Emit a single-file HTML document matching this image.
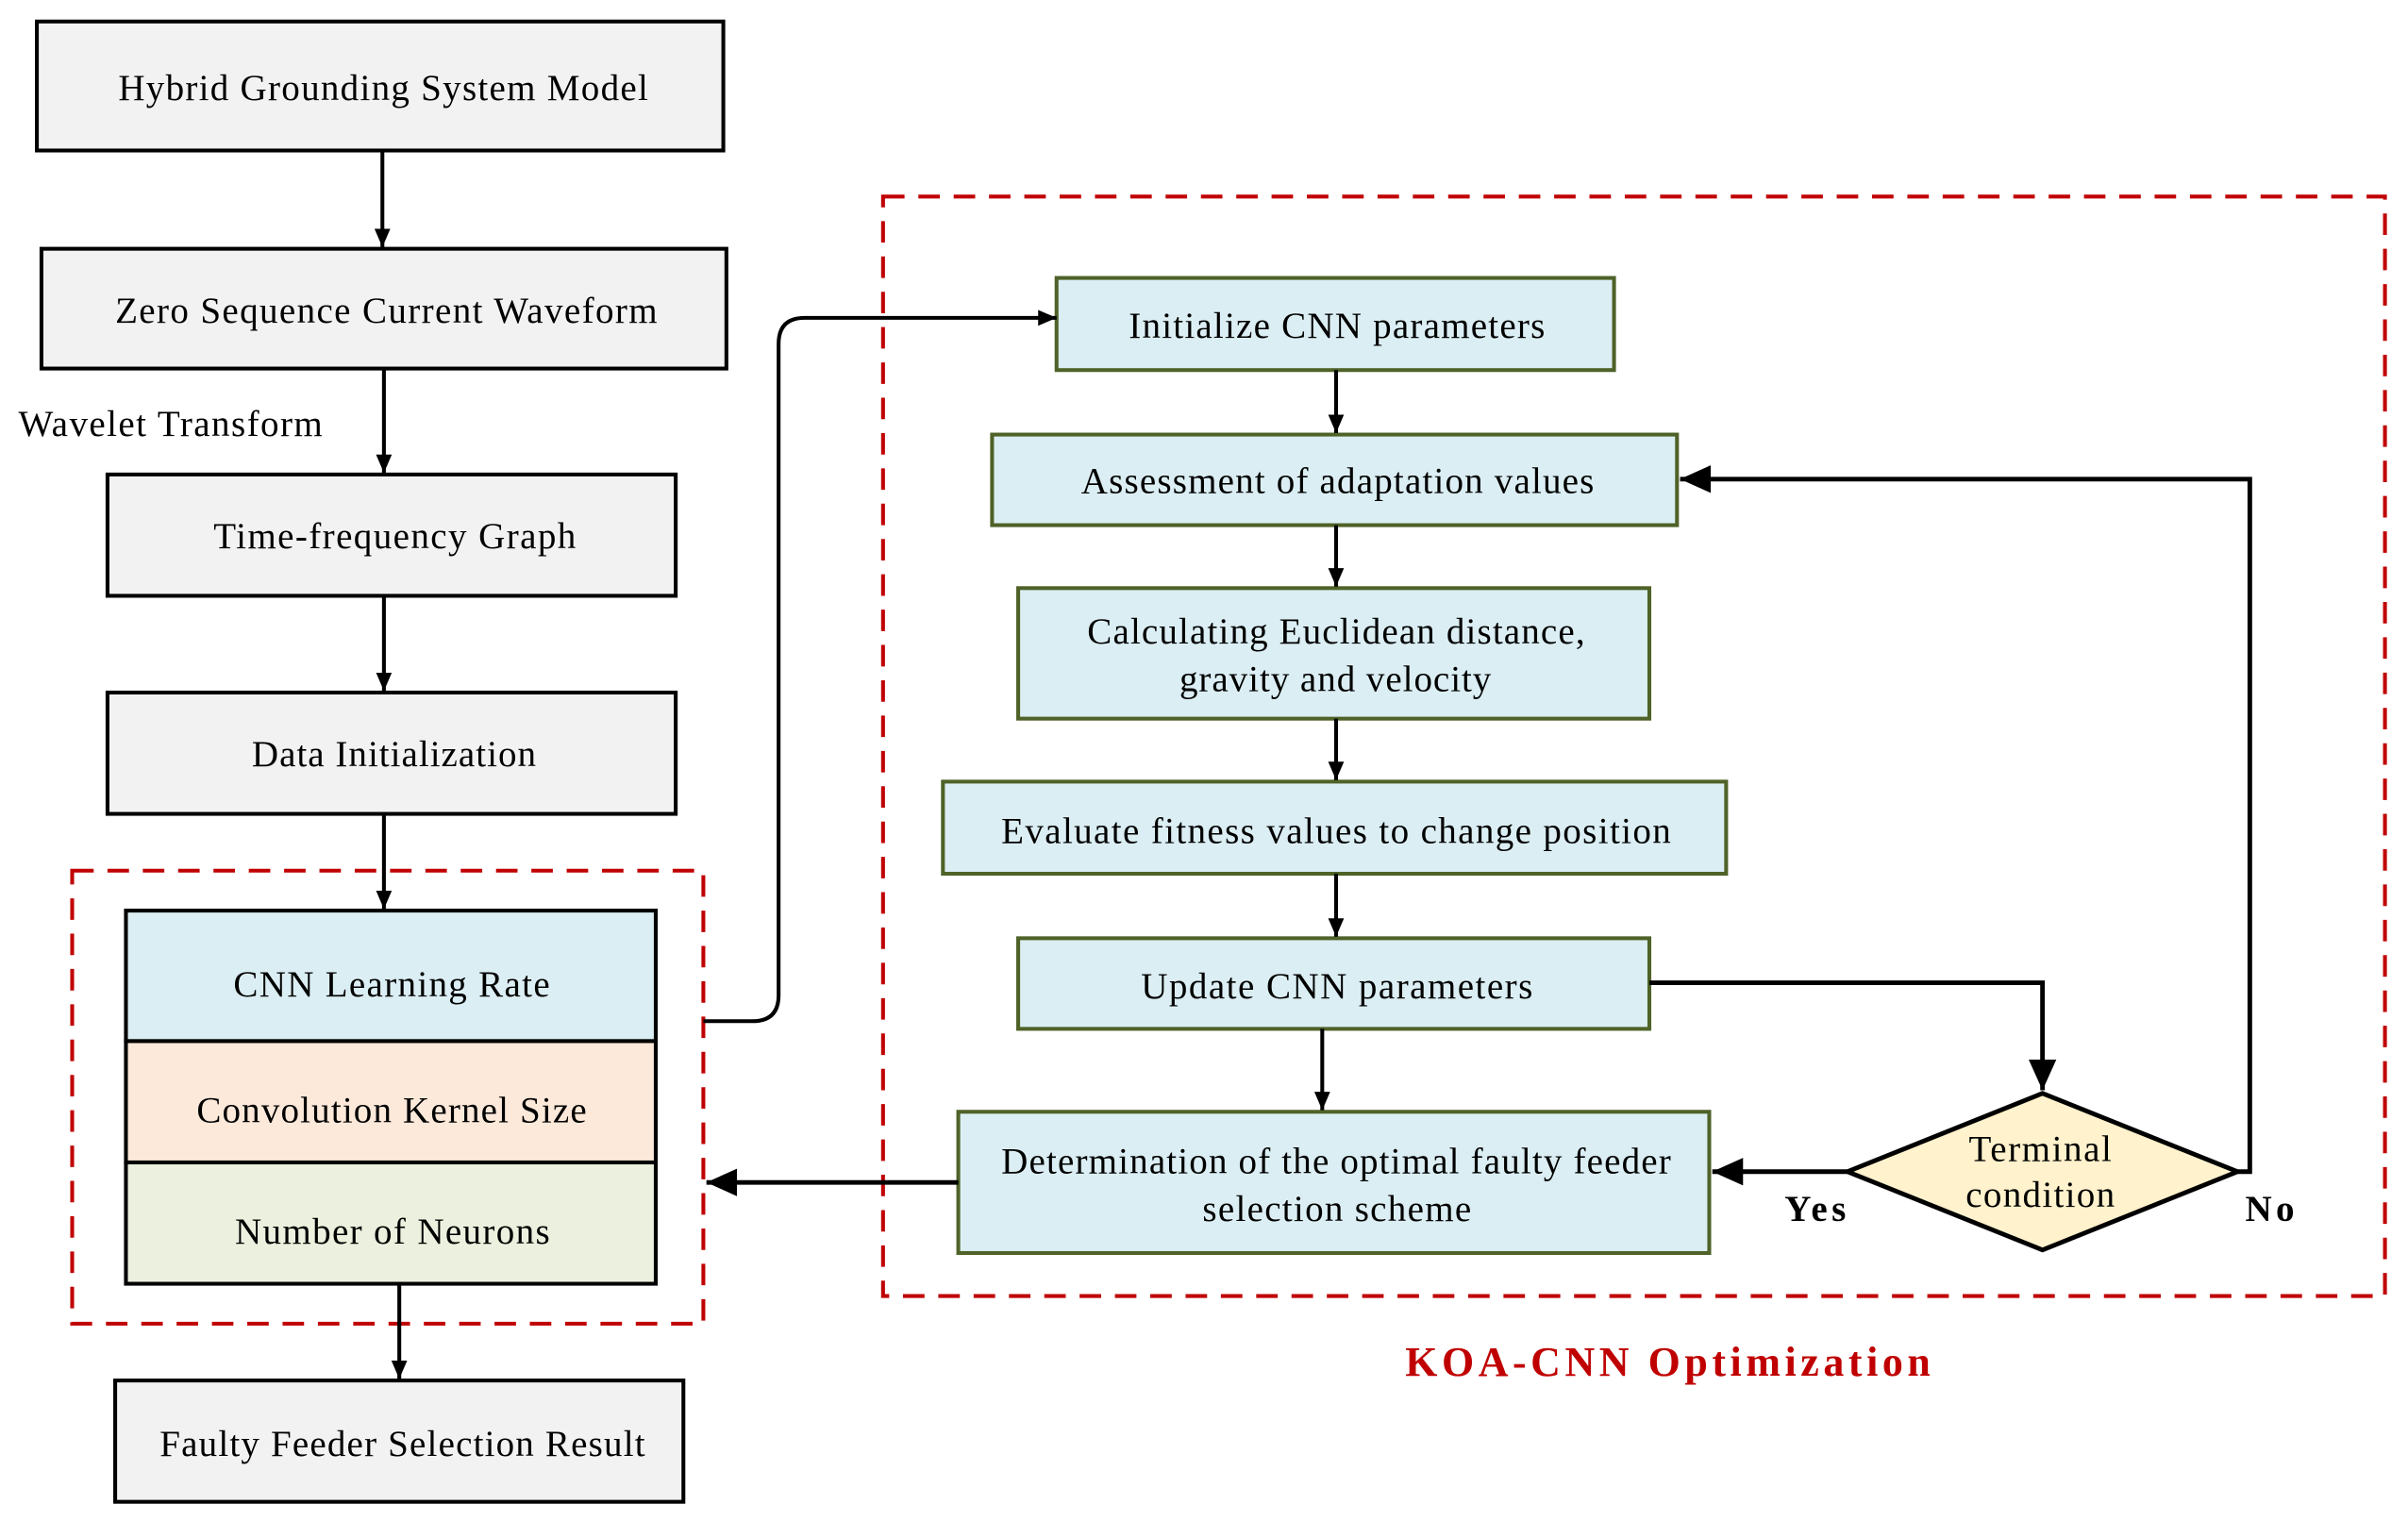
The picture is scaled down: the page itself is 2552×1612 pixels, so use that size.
<!DOCTYPE html>
<html><head><meta charset="utf-8"><style>
html,body{margin:0;padding:0;background:#fff;}
svg{display:block;}
text{font-family:"Liberation Serif",serif;font-size:24px;fill:#000;}
</style></head><body>
<svg width="2552" height="1612" viewBox="0 0 1568 990.5" preserveAspectRatio="none" xmlns="http://www.w3.org/2000/svg">
<defs>
<marker id="a" markerWidth="12" markerHeight="14" refX="14" refY="6" orient="auto" markerUnits="userSpaceOnUse" viewBox="0 0 14 12"><path d="M0,0 L14,6 L0,12 z" fill="#000"/></marker>
<marker id="b" markerWidth="20" markerHeight="18" refX="20" refY="9" orient="auto" markerUnits="userSpaceOnUse" viewBox="0 0 20 18"><path d="M0,0 L20,9 L0,18 z" fill="#000"/></marker>
</defs>
<g stroke="#000" stroke-width="2.5" fill="#f2f2f2">
<rect x="24" y="14" width="447" height="84"/>
<rect x="27" y="162" width="446" height="78"/>
<rect x="70" y="309" width="370" height="79"/>
<rect x="70" y="451" width="370" height="79"/>
<rect x="82" y="593" width="345" height="85" fill="#dbeef3"/>
<rect x="82" y="678" width="345" height="79" fill="#fce9da"/>
<rect x="82" y="757" width="345" height="79" fill="#ebf1de"/>
<rect x="75" y="899" width="370" height="79"/>
</g>
<g stroke="#c00000" stroke-width="2.5" fill="none" stroke-dasharray="14,9">
<rect x="47" y="567" width="411" height="295"/>
<rect x="575" y="128" width="978" height="716"/>
</g>
<g stroke="#4f6228" stroke-width="2.5" fill="#dbeef3">
<rect x="688" y="181" width="363" height="60"/>
<rect x="646" y="283" width="446" height="59"/>
<rect x="663" y="383" width="411" height="85"/>
<rect x="614" y="509" width="510" height="60"/>
<rect x="663" y="611" width="411" height="59"/>
<rect x="624" y="724" width="489" height="92"/>
</g>
<polygon points="1330,712 1457,763 1330,814 1203,763" fill="#fff2cc" stroke="#000" stroke-width="3"/>
<g stroke="#000" stroke-width="2.5" fill="none" marker-end="url(#a)">
<line x1="249" y1="98" x2="249" y2="161"/>
<line x1="250" y1="240" x2="250" y2="308"/>
<line x1="250" y1="388" x2="250" y2="450"/>
<line x1="250" y1="530" x2="250" y2="592"/>
<line x1="260" y1="836" x2="260" y2="898"/>
<path d="M458,665 H490 Q507,665 507,648 V224 Q507,207 524,207 H688"/>
<line x1="870" y1="241" x2="870" y2="282"/>
<line x1="870" y1="342" x2="870" y2="382"/>
<line x1="870" y1="468" x2="870" y2="508"/>
<line x1="870" y1="569" x2="870" y2="610"/>
<line x1="861" y1="670" x2="861" y2="723"/>
</g>
<g stroke="#000" stroke-width="3" fill="none" marker-end="url(#b)">
<path d="M1074,640 H1330 V710"/>
<line x1="1203" y1="763" x2="1115" y2="763"/>
<path d="M1457,763 H1465 V312 H1094"/>
<line x1="624" y1="770" x2="460" y2="770"/>
</g>
<g lengthAdjust="spacing">
<text x="77" y="65" textLength="345">Hybrid Grounding System Model</text>
<text x="75" y="210" textLength="353">Zero Sequence Current Waveform</text>
<text x="139" y="357" textLength="236">Time-frequency Graph</text>
<text x="164" y="499" textLength="185">Data Initialization</text>
<text x="152" y="649" textLength="206">CNN Learning Rate</text>
<text x="128" y="731" textLength="254">Convolution Kernel Size</text>
<text x="153" y="810" textLength="205">Number of Neurons</text>
<text x="104" y="948" textLength="316">Faulty Feeder Selection Result</text>
<text x="735" y="220" textLength="271">Initialize CNN parameters</text>
<text x="704" y="321" textLength="334">Assessment of adaptation values</text>
<text x="708" y="419" textLength="324">Calculating Euclidean distance,</text>
<text x="768" y="450" textLength="203">gravity and velocity</text>
<text x="652" y="549" textLength="436">Evaluate fitness values to  change position</text>
<text x="743" y="650" textLength="255">Update CNN parameters</text>
<text x="652" y="764" textLength="436">Determination of the optimal faulty feeder</text>
<text x="783" y="795" textLength="175">selection scheme</text>
<text x="1282" y="756" textLength="93">Terminal</text>
<text x="1280" y="786" textLength="97">condition</text>
<text x="1162" y="795" textLength="40" font-weight="bold">Yes</text>
<text x="1462" y="795" textLength="32" font-weight="bold">No</text>
<text x="915" y="896" textLength="342" font-weight="bold" style="fill:#c00000;font-size:27px">KOA-CNN Optimization</text>
<text x="12" y="284" textLength="198">Wavelet Transform</text>
</g>
</svg>
</body></html>
